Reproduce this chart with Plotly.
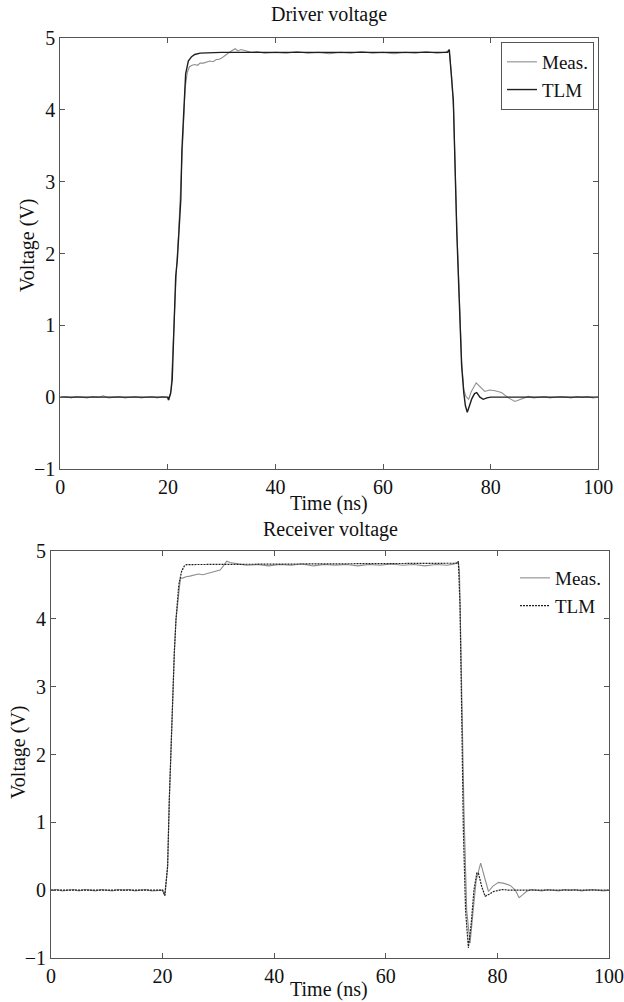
import plotly.graph_objects as go

# ---------------- Data ----------------
# Driver voltage - measured
t_drv_meas = [0, 1, 2, 3, 4, 5, 6, 7, 8, 9, 10, 11, 12, 13, 14, 15, 16, 17, 18, 19, 19.8,
              20.2, 20.6, 21.0, 21.3, 21.6, 22.0, 22.4, 22.8, 23.2, 23.6, 24.0, 24.5, 25.0,
              25.5, 26.0, 26.6, 27.2, 27.8, 28.4, 29.0, 29.4, 30.0, 30.5, 31.2, 31.8, 32.5,
              33.0, 33.6, 34.6, 35.5, 36.5, 38, 40, 42, 44, 46, 48, 50, 52, 54, 56, 58, 60,
              62, 64, 66, 68, 70, 71.5, 72.3, 72.7, 73.1, 73.7, 74.1, 74.6, 75.0, 75.4, 75.9,
              76.4, 77.3, 78.0, 78.9, 79.8, 80.8, 82.0, 83.3, 84.5, 85.8, 87, 88, 89, 90, 91,
              92, 93, 94, 95, 96, 97, 98, 99, 100]
v_drv_meas = [0.00, 0.01, -0.01, 0.01, 0.00, -0.01, 0.01, 0.00, 0.02, -0.01, 0.00, 0.01, -0.01,
              0.00, 0.01, -0.01, 0.00, 0.01, -0.01, 0.01, 0.00,
              -0.04, 0.10, 0.80, 1.50, 1.80, 2.30, 2.90, 3.70, 4.30, 4.52, 4.60, 4.62, 4.63,
              4.62, 4.65, 4.65, 4.66, 4.68, 4.67, 4.70, 4.70, 4.72, 4.75, 4.79, 4.82, 4.85,
              4.82, 4.84, 4.82, 4.80, 4.81, 4.79, 4.80, 4.79, 4.81, 4.79, 4.80, 4.78, 4.80,
              4.79, 4.81, 4.79, 4.80, 4.78, 4.80, 4.79, 4.81, 4.79, 4.80, 4.83, 4.50, 4.00,
              2.35, 1.40, 0.50, 0.10, 0.01, -0.03, 0.08, 0.20, 0.15, 0.08, 0.10, 0.09, 0.065,
              -0.01, -0.06, -0.02, 0.01, -0.01, 0.00, 0.01, -0.01, 0.00, 0.01, 0.00, -0.01,
              0.01, 0.00, 0.01, -0.01, 0.00]

# Driver voltage - TLM
t_drv_tlm = [0, 20.0, 20.1, 20.5, 20.8, 21.1, 21.45, 21.75, 22.1, 22.4, 22.6, 23.0, 23.3, 23.8,
             24.4, 25.0, 26.0, 30.0, 72.0, 72.3, 72.6, 73.05, 73.7, 74.1, 74.6, 75.0, 75.3,
             75.65, 76.0, 76.5, 77.0, 77.4, 78.0, 78.6, 79.3, 80.0, 100]
v_drv_tlm = [0.00, 0.00, -0.04, 0.05, 0.24, 0.90, 1.68, 1.91, 2.40, 2.75, 3.44, 4.14, 4.50, 4.68,
             4.74, 4.77, 4.79, 4.80, 4.80, 4.84, 4.60, 4.14, 2.29, 1.36, 0.43, 0.06, -0.12,
             -0.21, -0.14, -0.02, 0.05, 0.064, 0.00, -0.03, -0.01, 0.00, 0.00]

# Receiver voltage - measured
t_rcv_meas = [0, 1, 2, 3, 4, 5, 6, 7, 8, 9, 10, 11, 12, 13, 14, 15, 16, 17, 18, 19, 20.0,
              20.4, 20.9, 21.2, 21.75, 22.1, 22.4, 22.8, 23.2, 23.6, 24.2, 24.9, 25.6, 26.4,
              27.2, 28.0, 28.8, 29.6, 30.3, 30.9, 31.5, 32.1, 32.7, 33.5, 35, 37, 39, 41, 43,
              45, 47, 49, 51, 53, 55, 57, 59, 61, 63, 65, 67, 69, 71, 72.3, 73.0, 73.2, 73.6,
              74.0, 74.5, 75.1, 75.6, 76.2, 77.0, 77.6, 78.4, 79.2, 80.2, 81.2, 82.3, 83.2,
              83.9, 84.5, 85.2, 86, 87, 88, 89, 90, 91, 92, 93, 94, 95, 96, 97, 98, 99, 100]
v_rcv_meas = [0.00, 0.01, -0.01, 0.00, 0.01, -0.01, 0.01, 0.00, -0.01, 0.01, 0.00, -0.01, 0.01,
              0.00, 0.01, -0.01, 0.00, 0.01, -0.01, 0.00, 0.00,
              -0.08, 0.35, 1.33, 2.81, 3.50, 3.99, 4.35, 4.60, 4.60, 4.62, 4.63, 4.64, 4.66,
              4.65, 4.67, 4.68, 4.70, 4.72, 4.78, 4.85, 4.83, 4.82, 4.81, 4.79, 4.80, 4.78,
              4.80, 4.79, 4.81, 4.78, 4.80, 4.79, 4.80, 4.78, 4.80, 4.79, 4.81, 4.79, 4.80,
              4.78, 4.80, 4.79, 4.81, 4.84, 4.70, 3.00, 1.20, -0.30, -0.78, -0.35, 0.15, 0.40,
              0.22, -0.02, 0.06, 0.115, 0.10, 0.07, 0.00, -0.11, -0.07, -0.02, 0.01, 0.00,
              -0.01, 0.01, 0.00, -0.01, 0.01, 0.00, 0.01, -0.01, 0.00, 0.01, 0.00, -0.01, 0.00]

# Receiver voltage - TLM
t_rcv_tlm = [0, 20.0, 20.4, 20.9, 21.2, 21.75, 22.1, 22.4, 22.9, 23.4, 23.9, 24.3, 72.9, 73.0,
             73.3, 73.6, 73.9, 74.3, 74.8, 75.3, 75.8, 76.3, 76.6, 77.2, 77.8, 78.5, 79.3,
             80.9, 82.0, 100]
v_rcv_tlm = [0.00, 0.00, -0.08, 0.35, 1.33, 2.81, 3.50, 3.99, 4.50, 4.70, 4.78, 4.80, 4.82, 4.85,
             4.20, 2.60, 0.89, -0.30, -0.85, -0.50, 0.00, 0.25, 0.25, 0.05, -0.09, -0.06,
             -0.02, 0.01, 0.00, 0.00]

x_ticks = [0, 20, 40, 60, 80, 100]
y_ticks = [-1, 0, 1, 2, 3, 4, 5]

# ---------------- Figure ----------------
W, H = 624, 1002
FONT = "Liberation Serif, Times New Roman, serif"
MEAS_COLOR = "#8e8e8e"
TLM_COLOR = "#1e1e1e"
AX_COLOR = "#555555"
TXT = "#111111"

fig = go.Figure()
fig.add_trace(go.Scatter(x=t_drv_meas, y=v_drv_meas, mode="lines", name="Meas.",
                         line=dict(color=MEAS_COLOR, width=1.1),
                         xaxis="x", yaxis="y", legend="legend"))
fig.add_trace(go.Scatter(x=t_drv_tlm, y=v_drv_tlm, mode="lines", name="TLM",
                         line=dict(color=TLM_COLOR, width=1.4),
                         xaxis="x", yaxis="y", legend="legend"))
fig.add_trace(go.Scatter(x=t_rcv_meas, y=v_rcv_meas, mode="lines", name="Meas.",
                         line=dict(color=MEAS_COLOR, width=1.1),
                         xaxis="x2", yaxis="y2", legend="legend2"))
fig.add_trace(go.Scatter(x=t_rcv_tlm, y=v_rcv_tlm, mode="lines", name="TLM",
                         line=dict(color=TLM_COLOR, width=1.2, dash="2px,1px"),
                         xaxis="x2", yaxis="y2", legend="legend2"))


def xax(domain, anchor):
    return dict(domain=domain, anchor=anchor, range=[0, 100], tickvals=x_ticks,
                ticks="inside", ticklen=5, tickcolor=AX_COLOR, mirror="ticks",
                showline=True, linecolor=AX_COLOR, linewidth=1, showgrid=False,
                zeroline=False, tickfont=dict(family=FONT, size=20, color=TXT),
                ticklabeloverflow="allow", automargin=False)


def yax(domain, anchor):
    return dict(domain=domain, anchor=anchor, range=[-1, 5], tickvals=y_ticks,
                ticks="inside", ticklen=5, tickcolor=AX_COLOR, mirror="ticks",
                showline=True, linecolor=AX_COLOR, linewidth=1, showgrid=False,
                zeroline=False, tickfont=dict(family=FONT, size=20, color=TXT),
                automargin=False)


def label(text, xpx, ypx, angle=0):
    return dict(text=text, x=xpx / W, y=1 - ypx / H, xref="paper", yref="paper",
                showarrow=False, xanchor="center", yanchor="middle", textangle=angle,
                font=dict(family=FONT, size=20, color=TXT))


fig.update_layout(
    width=W, height=H,
    margin=dict(l=0, r=0, t=0, b=0),
    paper_bgcolor="white", plot_bgcolor="white",
    font=dict(family=FONT, size=20, color=TXT),
    xaxis=xax([60.3 / W, 598.3 / W], "y"),
    yaxis=yax([1 - 469 / H, 1 - 38 / H], "x"),
    xaxis2=xax([51 / W, 609 / W], "y2"),
    yaxis2=yax([1 - 958 / H, 1 - 551 / H], "x2"),
    legend=dict(x=594 / W, y=1 - 42 / H, xanchor="right", yanchor="top",
                bordercolor=AX_COLOR, borderwidth=1, bgcolor="white",
                font=dict(family=FONT, size=19, color=TXT),
                itemwidth=30, tracegroupgap=0),
    legend2=dict(x=606 / W, y=1 - 559 / H, xanchor="right", yanchor="top",
                 borderwidth=0, bgcolor="rgba(255,255,255,0)",
                 font=dict(family=FONT, size=19, color=TXT),
                 itemwidth=30, tracegroupgap=0),
    annotations=[
        label("Driver voltage", 329, 15),
        label("Time (ns)", 329, 504),
        label("Receiver voltage", 330, 529),
        label("Time (ns)", 329, 989),
        label("Voltage (V)", 27, 245, -90),
        label("Voltage (V)", 18, 752, -90),
    ],
)

fig.write_html(
    "out.html",
    config={"displayModeBar": False},
    post_script="document.body.style.margin='0';document.body.style.overflow='hidden';",
)
